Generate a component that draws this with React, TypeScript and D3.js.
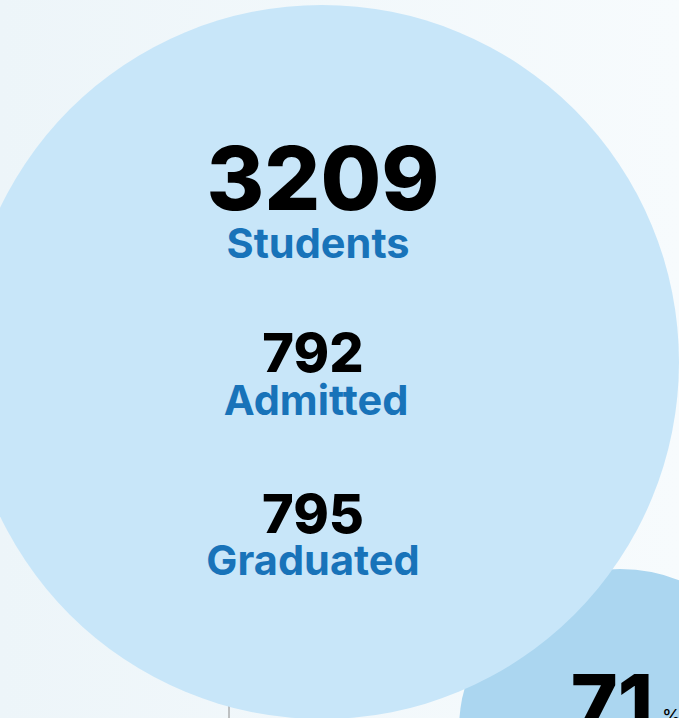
import React from "react";
import * as d3 from "d3";

const W = 679;
const H = 718;

// stats shown inside the main bubble
const statValues = [3209, 792, 795];
const statLabels = ["Students", "Admitted", "Graduated"];
const rateValue = 71;
const rateUnit = "%";

const MAIN = { cx: 322, cy: 362, r: 357 };
const SIDE = { cx: 620, cy: 730, r: 161 };

export default function App() {
  // vertical slots for the three stats (baseline of number)
  const slot = d3.scalePoint<number>().domain(d3.range(statValues.length)).range([210, 533]);
  const numSize = d3.scaleOrdinal<number, number>().domain([0, 1, 2]).range([88, 54, 54]);
  const numX = d3.scaleOrdinal<number, number>().domain([0, 1, 2]).range([323, 313, 313]);
  const labelX = d3.scaleOrdinal<number, number>().domain([0, 1, 2]).range([318, 316, 313]);
  const labelGap = d3.scaleOrdinal<number, number>().domain([0, 1, 2]).range([48, 43, 42]);
  const fmt = d3.format("d");

  return (
    <div style={{ position: "fixed", left: 0, top: 0 }}>
      <svg width={W} height={H} style={{ display: "block" }}>
        <defs>
          <linearGradient id="bg" x1="0" y1="0" x2="1" y2="0">
            <stop offset="0%" stopColor="#edf5f9" />
            <stop offset="100%" stopColor="#f7fbfd" />
          </linearGradient>
        </defs>
        <rect width={W} height={H} fill="url(#bg)" />
        <line x1={229} x2={229} y1={690} y2={H} stroke="#8a8a8a" strokeWidth={1} />
        <circle cx={SIDE.cx} cy={SIDE.cy} r={SIDE.r} fill="#abd6f0" />
        <circle cx={MAIN.cx} cy={MAIN.cy} r={MAIN.r} fill="#c8e6f9" />
        <g fontFamily="Inter, 'Noto Sans', sans-serif" textAnchor="middle">
          {statValues.map((v, i) => {
            const y = slot(i) ?? 0;
            return (
              <g key={statLabels[i]}>
                <text x={numX(i)} y={y} fontSize={numSize(i)} fontWeight={800} fill="#000">
                  {fmt(v)}
                </text>
                <text x={labelX(i)} y={y + labelGap(i)} fontSize={41.5} fontWeight={700} fill="#1873b9">
                  {statLabels[i]}
                </text>
              </g>
            );
          })}
        </g>
        <g fontFamily="Inter, 'Noto Sans', sans-serif">
          <text x={612} y={732} fontSize={80} fontWeight={800} textAnchor="middle" fill="#000">
            {rateValue}
          </text>
          <text x={662} y={723} fontSize={19} fontWeight={400} fill="#000">
            {rateUnit}
          </text>
        </g>
      </svg>
    </div>
  );
}
